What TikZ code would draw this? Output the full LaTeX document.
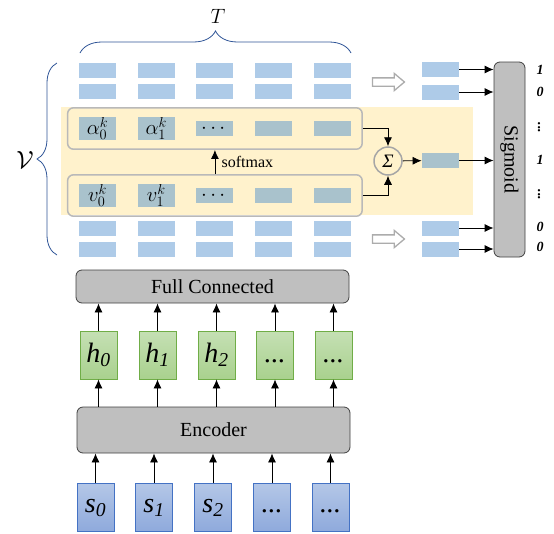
\documentclass[tikz,border=0pt]{standalone}
\usepackage{amsmath}
\usepackage{fontspec}
\setmainfont{Liberation Serif}
\usetikzlibrary{arrows.meta,positioning,fit,shapes.arrows,decorations.pathreplacing}

\definecolor{cellblue}{HTML}{AECBE8}
\definecolor{attcell}{HTML}{A9C2CC}
\definecolor{band}{HTML}{FFF2CC}
\definecolor{boxgray}{HTML}{BFBFBF}
\definecolor{bracecol}{HTML}{2F5597}
\definecolor{hline}{HTML}{70AD47}
\definecolor{htop}{HTML}{C5E0B4}
\definecolor{hbot}{HTML}{A9D18E}
\definecolor{sline}{HTML}{4472C4}
\definecolor{stop}{HTML}{B4C7E7}
\definecolor{sbot}{HTML}{8FAADC}

\tikzset{
  cell/.style={rectangle, fill=cellblue, minimum width=37pt, minimum height=15pt, inner sep=0pt},
  acell/.style={cell, fill=attcell, font=\fontsize{20}{22}\selectfont},
  group/.style={draw=gray!55, line width=1.5pt, rounded corners=6pt, inner xsep=11pt, inner ysep=9pt},
  sumnode/.style={circle, draw=gray!70, line width=1.5pt, minimum size=28pt, inner sep=0pt, font=\fontsize{19}{20}\selectfont\itshape},
  hollow/.style={single arrow, draw=gray!65, line width=1.3pt, fill=white, minimum height=32pt, inner xsep=0pt, inner ysep=3.5pt, single arrow head extend=4.5pt, single arrow tip angle=80},
  bigbox/.style={rectangle, rounded corners=6pt, fill=boxgray, draw=black!75, line width=0.8pt, font=\fontsize{20}{24}\selectfont},
  hcell/.style={rectangle, draw=hline, top color=htop, bottom color=hbot, minimum width=37pt, minimum height=48pt, inner sep=0pt, text height=19pt, text depth=5pt, font=\fontsize{28}{30}\selectfont\itshape},
  scell/.style={rectangle, draw=sline, top color=stop, bottom color=sbot, minimum width=37pt, minimum height=48pt, inner sep=0pt, text height=15pt, text depth=5pt, font=\fontsize{28}{30}\selectfont\itshape},
  outlab/.style={font=\fontsize{14}{16}\selectfont\bfseries\itshape},
  brace/.style={decorate, decoration={brace, amplitude=22pt}, draw=bracecol, line width=0.8pt}
}

\begin{document}
\begin{tikzpicture}[x=1pt, y=-1pt, >={Latex[length=9pt,width=8pt]}, line width=0.8pt]
\useasboundingbox (0,0) rectangle (554,533);

% attention band
\fill[band] (61,107) rectangle (473,215);

% braces
\draw[brace] (80,53) -- (351,53);
\node[font=\fontsize{20}{22}\selectfont] (T) at (218,16) {$T$};
\draw[brace, decoration={amplitude=20pt}] (57,255) -- (57,63);
\node[font=\fontsize{24}{26}\selectfont] (V) at (25,160) {$\mathcal{V}$};

% feature rows
\foreach \i in {0,...,4} {
  \node[cell] (c1\i) at (97.5+58.7*\i,70.5) {};
  \node[cell] (c2\i) at (97.5+58.7*\i,91.5) {};
  \node[cell] (c5\i) at (97.5+58.7*\i,228.5) {};
  \node[cell] (c6\i) at (97.5+58.7*\i,249.5) {};
}

\node[acell] (a0) at (97.5,128.5) {$\alpha_0^k$};
\node[acell] (a1) at (156.2,128.5) {$\alpha_1^k$};
\node[acell] (a2) at (214.9,128.5) {$\cdots$};
\node[acell] (a3) at (273.6,128.5) {};
\node[acell] (a4) at (332.3,128.5) {};
\node[acell] (v0) at (97.5,195.5) {$v_0^k$};
\node[acell] (v1) at (156.2,195.5) {$v_1^k$};
\node[acell] (v2) at (214.9,195.5) {$\cdots$};
\node[acell] (v3) at (273.6,195.5) {};
\node[acell] (v4) at (332.3,195.5) {};
\node[group, fit=(a0)(a4)] (arow) {};
\node[group, fit=(v0)(v4)] (vrow) {};

\draw[->] (vrow.north -| a2) -- (arow.south -| a2)
  node[midway, right=3pt, font=\fontsize{16}{18}\selectfont] {softmax};

\node[sumnode] (sum) at (388,161) {Σ};
\draw[->] (arow.east) -| (sum.north);
\draw[->] (vrow.east) -| (sum.south);

% pooled features
\node[hollow] (p1) at (386,82) {};
\node[hollow] (p2) at (386,239) {};
\node[cell] (r1) at (440.5,69.5) {};
\node[cell] (r2) at (440.5,92) {};
\node[acell] (r3) at (440.5,160.5) {};
\node[cell] (r4) at (440.5,228) {};
\node[cell] (r5) at (440.5,249) {};
\draw[->] (sum) -- (r3);

\node[bigbox, minimum width=31pt, minimum height=195pt] (sig) at (509.5,159.5) {};
\node[rotate=-90, font=\fontsize{20}{24}\selectfont] (sigtxt) at (sig.center) {Sigmoid};
\foreach \r in {r1,r2,r3,r4,r5}
  \draw[->] (\r) -- (\r -| sig.west);

\node[outlab] (o1) at (540,70) {1};
\node[outlab] (o2) at (540,92) {0};
\node[outlab, rotate=-90] (o3) at (539,128) {...};
\node[outlab] (o4) at (540,160) {1};
\node[outlab, rotate=-90] (o5) at (539,195) {...};
\node[outlab] (o6) at (540,227) {0};
\node[outlab] (o7) at (540,247) {0};

% encoder part
\node[bigbox, minimum width=273pt, minimum height=33pt] (fc) at (212.5,286.5) {Full Connected};
\node[bigbox, minimum width=273pt, minimum height=46pt] (enc) at (213.5,430) {Encoder};

\node[hcell] (h0) at (98.5,355) {h\textsubscript{0}};
\node[hcell] (h1) at (157.5,355) {h\textsubscript{1}};
\node[hcell] (h2) at (216.5,355) {h\textsubscript{2}};
\node[hcell] (h3) at (275,355) {...};
\node[hcell] (h4) at (333.5,355) {...};

\node[scell] (s0) at (95.5,507) {s\textsubscript{0}};
\node[scell] (s1) at (154,507) {s\textsubscript{1}};
\node[scell] (s2) at (213,507) {s\textsubscript{2}};
\node[scell] (s3) at (272,507) {...};
\node[scell] (s4) at (330.5,507) {...};

\foreach \i in {0,...,4} {
  \draw[->] (h\i) -- (h\i |- fc.south);
  \draw[->] (h\i |- enc.north) -- (h\i);
  \draw[->] (s\i) -- (s\i |- enc.south);
}
\end{tikzpicture}
\end{document}
